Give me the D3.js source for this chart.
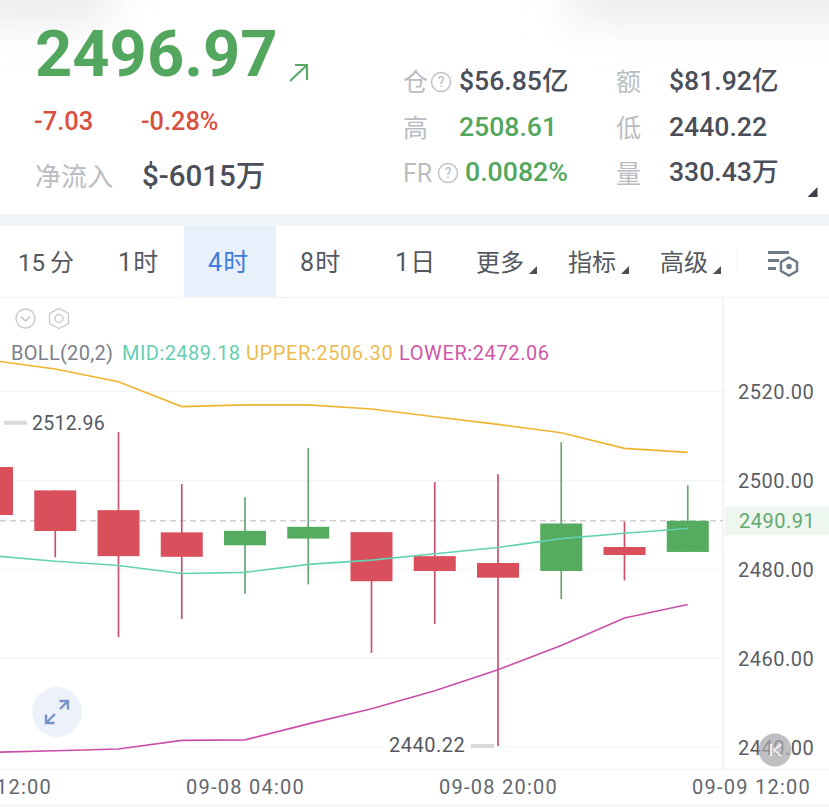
<!DOCTYPE html>
<html><head><meta charset="utf-8">
<script src="https://cdn.jsdelivr.net/npm/d3@7"></script>
<style>html,body{margin:0;padding:0;background:#fff;overflow:hidden}svg{display:block}
text{font-family:Roboto,"Noto Sans CJK SC",sans-serif}</style></head><body>
<script>
const yTicks=[2520,2500,2480,2460,2440];
const timeIdx=[0,4,8,12];
const timeLabels=["09-07 12:00","09-08 04:00","09-08 20:00","09-09 12:00"];
const open_=[2503.0,2497.75,2493.3,2488.3,2485.4,2486.9,2488.35,2482.95,2481.4,2479.6,2485.0,2483.9];
const close_=[2492.2,2488.6,2482.95,2482.8,2488.65,2489.55,2477.3,2479.6,2478.1,2490.3,2483.2,2490.91];
const high_=[2503.0,2497.75,2510.9,2499.2,2496.2,2507.3,2488.35,2499.6,2501.4,2508.6,2490.7,2498.9];
const low_=[2492.2,2482.7,2464.7,2468.8,2474.5,2476.6,2461.2,2467.7,2440.22,2473.3,2477.5,2483.9];
const upper=[2527.0,2525.07,2522.2,2516.6,2517.0,2517.0,2516.06,2514.3,2512.6,2510.7,2507.2,2506.3];
const mid=[2483.06,2481.8,2480.86,2479.05,2479.3,2481.1,2482.05,2483.5,2484.9,2486.9,2488.1,2489.18];
const lower=[2438.8,2439.15,2439.55,2441.5,2441.6,2445.2,2448.6,2452.65,2457.4,2462.85,2469.05,2472.07];
const lastPrice=2490.91;
const maxMark=2512.96, minMark=2440.22;
const tabs=["15\u2009分","1时","4时","8时","1日","更多","指标","高级"];
const tabX=[18,118,208,300,395,476,568,660];
const legend=[["BOLL(20,2)",11,"#7d8189",0.3],["MID:2489.18",122,"#66cfb2",0.45],["UPPER:2506.30",246,"#ecbc52",0.6],["LOWER:2472.06",399,"#cf58a8",0.6]];

const W=829,H=807;
const GREEN="#53a65d",RED="#d94f5b",GRID="#f3f4f6",DARK="#4b4f5a",MUTE="#b9bdc2";
const svg=d3.select("body").append("svg").attr("width",W).attr("height",H).attr("viewBox",`0 0 ${W} ${H}`);
const defs=svg.append("defs");
defs.append("filter").attr("id","blur").attr("x","-50%").attr("y","-200%").attr("width","200%").attr("height","500%")
  .append("feGaussianBlur").attr("stdDeviation",22);

const x=d3.scaleLinear().domain([0,12]).range([-8,751]);
const y=d3.scaleLinear().domain([2440,2520]).range([747,391.5]);

// header blurred shadows
svg.append("rect").attr("x",-40).attr("y",-30).attr("width",150).attr("height",50).attr("fill","#e8e8e8").attr("filter","url(#blur)");
svg.append("rect").attr("x",570).attr("y",-30).attr("width",320).attr("height",50).attr("fill","#eaeaea").attr("filter","url(#blur)");

function t(s,px,py,size,fill,weight,anchor){
  return svg.append("text").attr("x",px).attr("y",py).attr("font-size",size).attr("fill",fill)
    .attr("font-weight",weight||400).attr("text-anchor",anchor||"start").text(s);
}
function tri(cx,cy,s,fill){
  svg.append("path").attr("d",`M${cx+s/2} ${cy-s/2}L${cx+s/2} ${cy+s/2}L${cx-s/2} ${cy+s/2}Z`).attr("fill",fill);
}
function q(cx,cy){
  svg.append("circle").attr("cx",cx).attr("cy",cy).attr("r",9.5).attr("fill","none").attr("stroke","#bfc3c8").attr("stroke-width",1.5);
  t("?",cx,cy+5,14,"#b5b9be",400,"middle");
}

// header
t("2496.97",35,76,65,GREEN,700);
svg.append("path").attr("d","M290 81L307 65M295 65L307 65L307 80").attr("fill","none").attr("stroke","#5aa868").attr("stroke-width",2.2);
t("-7.03",34,130,25.5,"#d8503f",500);
t("-0.28%",141,130,25.3,"#d8503f",500);
t("净流入",35,186,26,MUTE);
t("$-6015万",142,186,29.5,DARK,500);
t("仓",403,91,25,MUTE); q(441,82);
t("$56.85亿",459,90,26.6,DARK,500);
t("额",616,91,25,MUTE);
t("$81.92亿",669,90,26.6,DARK,500);
t("高",403,137,25,MUTE);
t("2508.61",459,136,26.6,GREEN,500);
t("低",616,137,25,MUTE);
t("2440.22",669,136,26.6,DARK,500);
t("FR",403,182,25,MUTE); q(448,173);
t("0.0082%",465,181,26.7,GREEN,500);
t("量",616,183,25,MUTE);
t("330.43万",669,181,26.6,DARK,500);
tri(812.5,192,10,"#3d4048");

// strip and tabs
svg.append("rect").attr("x",0).attr("y",214).attr("width",W).attr("height",12).attr("fill","#f2f6fa");
svg.append("rect").attr("x",184).attr("y",226).attr("width",92).attr("height",71).attr("fill","#e7f0fb");
svg.append("line").attr("x1",0).attr("x2",W).attr("y1",297.5).attr("y2",297.5).attr("stroke",GRID).attr("stroke-width",1.5);
tabs.forEach((s,i)=>{const n=t(s,tabX[i],271,i>4||i===0?24:25,i===2?"#3f7bdc":"#55585f"); if(i>0&&i<5) n.attr("letter-spacing",1.2);});
[533,625,717].forEach(c=>tri(c,270,8,"#4a4d55"));
svg.append("line").attr("x1",737.5).attr("x2",737.5).attr("y1",248).attr("y2",272).attr("stroke","#eceef0");
svg.append("path").attr("d","M768 252.5H789M768 260.5H779M768 268.5H776").attr("stroke","#6e7c8c").attr("stroke-width",3).attr("fill","none");
svg.append("path").attr("d","M789 257.5L797 262V271L789 275.5L781 271V262Z").attr("fill","none").attr("stroke","#6e7c8c").attr("stroke-width",2.5);
svg.append("circle").attr("cx",789).attr("cy",266.5).attr("r",2.8).attr("fill","#6e7c8c");

// chart grid and axes
const gridG=svg.append("g");
gridG.selectAll("line").data(yTicks).join("line")
  .attr("x1",0).attr("x2",726).attr("y1",d=>y(d)).attr("y2",d=>y(d)).attr("stroke",GRID).attr("stroke-width",1);
svg.append("line").attr("x1",723).attr("x2",723).attr("y1",297).attr("y2",769).attr("stroke","#f0f1f3").attr("stroke-width",1.5);
svg.append("line").attr("x1",0).attr("x2",W).attr("y1",769.5).attr("y2",769.5).attr("stroke",GRID).attr("stroke-width",1.5);
svg.append("rect").attr("x",0).attr("y",804).attr("width",W).attr("height",3).attr("fill","#f5f8fb");

// price line
svg.append("line").attr("x1",0).attr("x2",723).attr("y1",y(lastPrice)).attr("y2",y(lastPrice))
  .attr("stroke","#cfcfd2").attr("stroke-width",1.3).attr("stroke-dasharray","6 4");
svg.append("rect").attr("x",725).attr("y",y(lastPrice)-14.5).attr("width",104).attr("height",29).attr("fill","#eef6f0");

// candles
const idx=d3.range(open_.length);
const g=svg.append("g");
g.selectAll(".wick").data(idx).join("line").attr("class","wick")
  .attr("x1",i=>x(i)).attr("x2",i=>x(i)).attr("y1",i=>y(high_[i])).attr("y2",i=>y(low_[i]))
  .attr("stroke",i=>close_[i]>=open_[i]?"#66a56f":"#c9536a").attr("stroke-width",1.7);
g.selectAll(".body").data(idx).join("rect").attr("class","body")
  .attr("x",i=>x(i)-21).attr("width",42)
  .attr("y",i=>y(Math.max(open_[i],close_[i])))
  .attr("height",i=>Math.abs(y(open_[i])-y(close_[i])))
  .attr("fill",i=>close_[i]>=open_[i]?"#55ab5f":RED);

// bollinger
const line=d3.line().x((d,i)=>x(i)).y(d=>y(d));
[[upper,"#f0b32e"],[mid,"#63d2b3"],[lower,"#cb4fa6"]].forEach(([d,c])=>{
  svg.append("path").attr("d",line(d)).attr("fill","none").attr("stroke",c).attr("stroke-width",1.6);
});

// axes through d3
const ax=svg.append("g").attr("transform","translate(738,0.7)")
  .call(d3.axisRight(y).tickValues(yTicks).tickSize(0).tickPadding(0).tickFormat(d=>d.toFixed(2)));
ax.select(".domain").remove();
ax.selectAll("text").attr("font-size",20).attr("fill","#5a5d65").attr("font-family","Roboto").attr("letter-spacing",0.5);
const bx=svg.append("g").attr("transform","translate(0,780)")
  .call(d3.axisBottom(x).tickValues(timeIdx).tickSize(0).tickPadding(0).tickFormat((d,i)=>timeLabels[i]));
bx.select(".domain").remove();
bx.selectAll("text").attr("font-size",20).attr("fill","#63666e").attr("font-family","Roboto").attr("letter-spacing",1.25);

t(lastPrice.toFixed(2),739,528,20,"#62aa6f").attr("letter-spacing",0.5);

// high/low marks
svg.append("rect").attr("x",4).attr("y",y(maxMark)-2).attr("width",23).attr("height",4).attr("fill","#d9d9d9");
t(maxMark.toFixed(2),32,430,19.5,"#55585f").attr("letter-spacing",0.3);
svg.append("rect").attr("x",471).attr("y",y(minMark)-2).attr("width",23).attr("height",4).attr("fill","#d9d9d9");
t(minMark.toFixed(2),389,752,20,"#55585f").attr("letter-spacing",0.5);

// legend
legend.forEach(([s,px,c,ls])=>t(s,px,360,20,c).attr("letter-spacing",ls));

// chart icons
svg.append("circle").attr("cx",25.5).attr("cy",318.5).attr("r",9.5).attr("fill","none").attr("stroke","#c6c8cc").attr("stroke-width",1.3);
svg.append("path").attr("d","M21 316.5L25.5 321L30 316.5").attr("fill","none").attr("stroke","#bcbfc4").attr("stroke-width",1.3);
svg.append("path").attr("d","M59 308.5L68.5 313.5V323.5L59 328.5L49.5 323.5V313.5Z").attr("fill","none").attr("stroke","#c6c8cc").attr("stroke-width",1.3);
svg.append("circle").attr("cx",59).attr("cy",318.5).attr("r",4).attr("fill","none").attr("stroke","#c6c8cc").attr("stroke-width",1.3);

// expand button
svg.append("circle").attr("cx",57).attr("cy",712).attr("r",25).attr("fill","#edf2fa");
svg.append("path").attr("d","M46 723L55 714M46 714.5V723H54.5M68 701L60 709M59.5 701H68V709.5").attr("fill","none").attr("stroke","#7893c6").attr("stroke-width",2.4);

// back button
svg.append("circle").attr("cx",775).attr("cy",750).attr("r",16.5).attr("fill","#a8a8ac").attr("fill-opacity",0.72);
svg.append("path").attr("d","M771 744V756M781 744L774 750L781 756").attr("fill","none").attr("stroke","#fff").attr("stroke-opacity",.8).attr("stroke-width",2);
</script></body></html>
